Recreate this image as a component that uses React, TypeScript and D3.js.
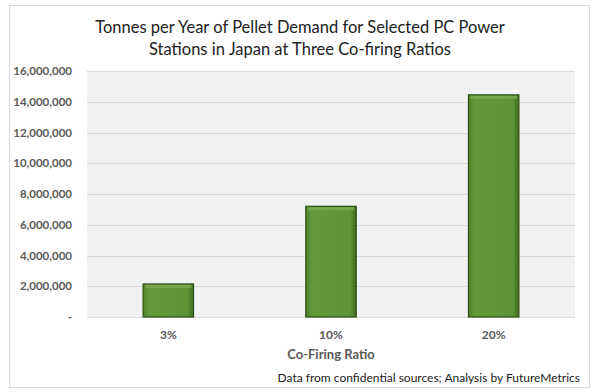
import * as d3 from 'd3'
import { useEffect, useRef } from 'react'

const categories = ['3%', '10%', '20%']
const demand = [2150000, 7200000, 14450000]
const yTicks = [0, 2000000, 4000000, 6000000, 8000000, 10000000, 12000000, 14000000, 16000000]

const titleLines = [
  'Tonnes per Year of Pellet Demand for Selected PC Power',
  'Stations in Japan at Three Co-firing Ratios',
]
const xAxisTitle = 'Co-Firing Ratio'
const sourceNote = 'Data from confidential sources; Analysis by FutureMetrics'

export default function App() {
  const svgRef = useRef<SVGSVGElement>(null)

  useEffect(() => {
    if (!svgRef.current) return
    d3.select(svgRef.current).selectAll('*').remove()

    const width = 600
    const height = 392
    const font = "Lato, 'Open Sans', 'Liberation Sans', sans-serif"
    const svg = d3.select(svgRef.current).attr('width', width).attr('height', height)

    // outer chart frame
    svg.append('rect')
      .attr('x', 0).attr('y', 0).attr('width', width).attr('height', height)
      .attr('fill', '#fff')
    svg.append('rect')
      .attr('x', 9.5).attr('y', 5.5).attr('width', 580).attr('height', 382)
      .attr('fill', '#fff')
      .attr('stroke', '#d9d9d9')

    const defs = svg.append('defs')
    const grad = defs.append('linearGradient')
      .attr('id', 'barGrad').attr('x1', 0).attr('x2', 1).attr('y1', 0).attr('y2', 0)
    grad.append('stop').attr('offset', '0%').attr('stop-color', '#4f8129')
    grad.append('stop').attr('offset', '12%').attr('stop-color', '#64993a')
    grad.append('stop').attr('offset', '88%').attr('stop-color', '#5e9436')
    grad.append('stop').attr('offset', '100%').attr('stop-color', '#3f6b1f')

    const margin = { top: 71, right: 25, bottom: 75, left: 87 }
    const plotW = width - margin.left - margin.right
    const plotH = height - margin.top - margin.bottom

    const x = d3.scaleBand().domain(categories).range([0, plotW])
      .paddingInner(0.69).paddingOuter(0.345)
    const y = d3.scaleLinear().domain([0, 16000000]).range([plotH, 0])

    const g = svg.append('g').attr('transform', `translate(${margin.left},${margin.top})`)

    // plot area background
    g.append('rect')
      .attr('width', plotW).attr('height', plotH)
      .attr('fill', '#f2f2f2')

    // gridlines
    g.selectAll('.grid')
      .data(yTicks)
      .enter()
      .append('line')
      .attr('x1', 0).attr('x2', plotW)
      .attr('y1', d => Math.round(y(d)) + 0.5).attr('y2', d => Math.round(y(d)) + 0.5)
      .attr('stroke', '#d9d9d9')

    // bars
    const bars = g.selectAll('.bar')
      .data(demand)
      .enter()
      .append('g')
    bars.append('rect')
      .attr('x', (d, i) => x(categories[i])!)
      .attr('y', d => y(d))
      .attr('width', x.bandwidth())
      .attr('height', d => plotH - y(d))
      .attr('fill', 'url(#barGrad)')
      .attr('stroke', '#2e4f16')
      .attr('stroke-width', 1.2)
    // top bevel highlight
    bars.append('rect')
      .attr('x', (d, i) => x(categories[i])! + 2)
      .attr('y', d => y(d) + 1)
      .attr('width', x.bandwidth() - 4)
      .attr('height', 3)
      .attr('fill', '#7aad50')
      .attr('opacity', 0.8)

    // y axis labels
    g.selectAll('.ytick')
      .data(yTicks)
      .enter()
      .append('text')
      .attr('x', -15)
      .attr('y', d => y(d))
      .attr('dy', '0.35em')
      .attr('text-anchor', 'end')
      .style('font-family', font)
      .style('font-size', '11.5px')
      .style('font-weight', 'bold')
      .style('fill', '#595959')
      .text(d => (d === 0 ? '-' : d3.format(',')(d)))

    // x axis labels
    g.selectAll('.xtick')
      .data(categories)
      .enter()
      .append('text')
      .attr('x', d => x(d)! + x.bandwidth() / 2)
      .attr('y', plotH + 22)
      .attr('text-anchor', 'middle')
      .style('font-family', font)
      .style('font-size', '12px')
      .style('font-weight', 'bold')
      .style('fill', '#595959')
      .text(d => d)

    // x axis title
    svg.append('text')
      .attr('x', margin.left + plotW / 2)
      .attr('y', 359)
      .attr('text-anchor', 'middle')
      .style('font-family', font)
      .style('font-size', '13px')
      .style('font-weight', 'bold')
      .style('fill', '#595959')
      .text(xAxisTitle)

    // source note
    svg.append('text')
      .attr('x', 580)
      .attr('y', 382)
      .attr('text-anchor', 'end')
      .style('font-family', font)
      .style('font-size', '12px')
      .style('fill', '#222')
      .text(sourceNote)

    // title
    svg.selectAll('.title')
      .data(titleLines)
      .enter()
      .append('text')
      .attr('x', 300)
      .attr('y', (d, i) => 33 + i * 22)
      .attr('text-anchor', 'middle')
      .style('font-family', font)
      .style('font-size', '16.5px')
      .style('fill', '#222')
      .text(d => d)
  }, [])

  return (
    <div style={{ position: 'absolute', left: 0, top: 0 }}>
      <svg ref={svgRef} style={{ display: 'block' }}></svg>
    </div>
  )
}
